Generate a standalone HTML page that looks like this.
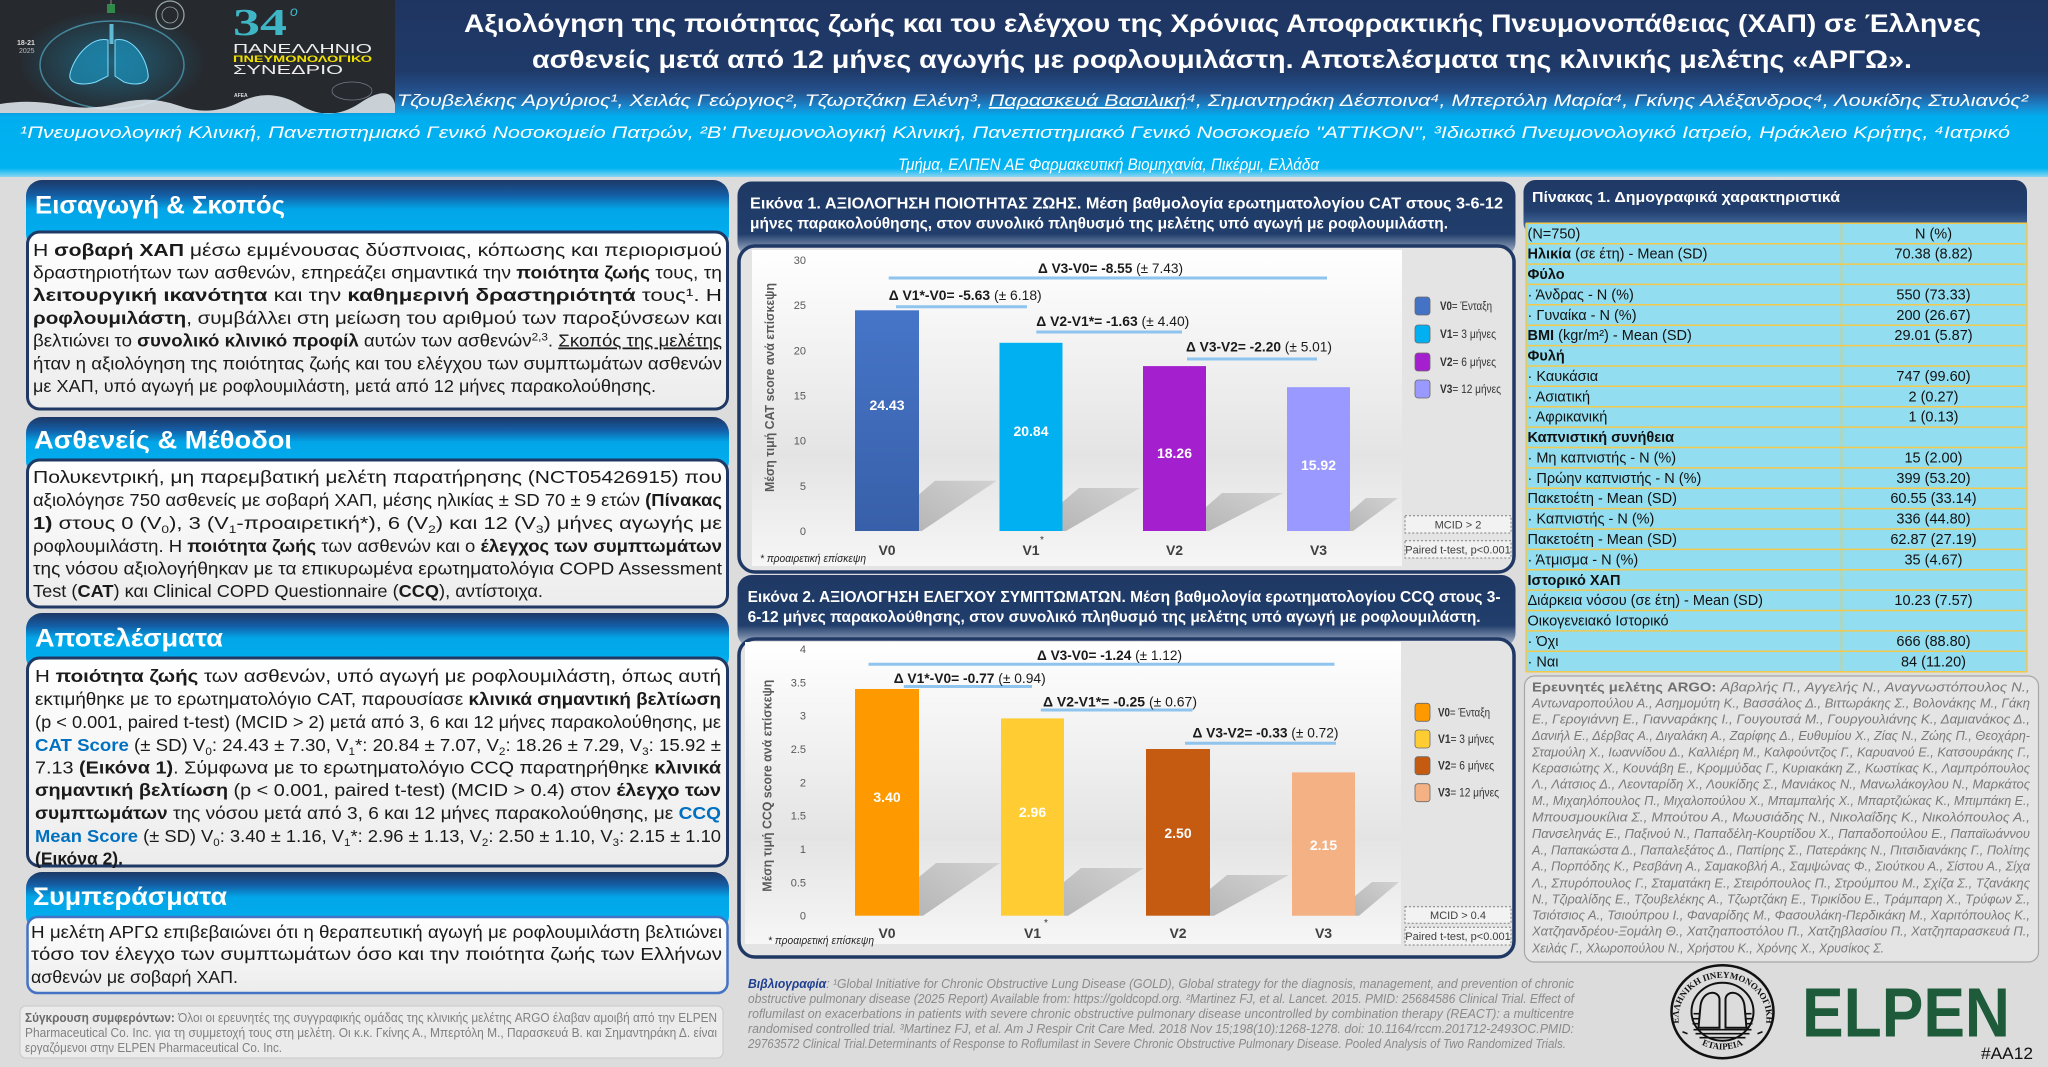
<!DOCTYPE html>
<html><head><meta charset="utf-8">
<style>
html,body{margin:0;padding:0;background:#dcdcdc;}
svg{display:block;}
text{font-family:"Liberation Sans","DejaVu Sans",sans-serif;}
.b{font-weight:bold;}
.bt{font-size:17.5px;fill:#1a1a1a;}
.tb{font-size:14.5px;fill:#111;}
.au{font-size:13px;fill:#7a7a7a;font-style:italic;}
.bib{font-size:12.5px;fill:#8a8a8a;font-style:italic;}
.yt{font-size:11px;fill:#595959;}
.ann{font-size:14px;fill:#1a1a1a;}
.lg{font-size:12px;fill:#333;}
.xl{font-size:14px;fill:#404040;font-weight:bold;}
.vl{font-size:14px;fill:#fff;font-weight:bold;}
</style></head><body>
<svg width="2048" height="1067" viewBox="0 0 2048 1067" xmlns="http://www.w3.org/2000/svg">
<defs>
<linearGradient id="hdr" x1="0" y1="0" x2="0" y2="1">
<stop offset="0" stop-color="#1f3561"/><stop offset="0.4" stop-color="#1f3a69"/><stop offset="0.52" stop-color="#24528e"/><stop offset="0.6" stop-color="#1a86cc"/><stop offset="0.66" stop-color="#00aeef"/><stop offset="0.95" stop-color="#00b3f0"/><stop offset="1" stop-color="#8ad6f2"/>
</linearGradient>
<linearGradient id="sec" x1="0" y1="0" x2="0" y2="1">
<stop offset="0" stop-color="#1d3866"/><stop offset="0.22" stop-color="#145ea6"/><stop offset="0.42" stop-color="#02a6e8"/><stop offset="1" stop-color="#00b0f0"/>
</linearGradient>
<linearGradient id="box" x1="0" y1="0" x2="0" y2="1">
<stop offset="0" stop-color="#ffffff"/><stop offset="1" stop-color="#ececec"/>
</linearGradient>
<linearGradient id="chdr" x1="0" y1="0" x2="0" y2="1">
<stop offset="0" stop-color="#1f3864"/><stop offset="0.7" stop-color="#213e6c"/><stop offset="1" stop-color="#b9c5d6"/>
</linearGradient>
<linearGradient id="thdr" x1="0" y1="0" x2="0" y2="1">
<stop offset="0" stop-color="#1f3864"/><stop offset="0.55" stop-color="#223f6f"/><stop offset="1" stop-color="#5581b6"/>
</linearGradient>
<linearGradient id="plotbg" x1="0" y1="0" x2="0" y2="1">
<stop offset="0" stop-color="#ffffff"/><stop offset="0.65" stop-color="#e4e4e4"/><stop offset="1" stop-color="#f6f6f6"/>
</linearGradient>
<linearGradient id="shd" x1="0" y1="1" x2="1" y2="0">
<stop offset="0" stop-color="#b0b0b0"/><stop offset="1" stop-color="#cfcfcf"/>
</linearGradient>
<linearGradient id="v0b" x1="0" y1="0" x2="0" y2="1">
<stop offset="0" stop-color="#4675c8"/><stop offset="1" stop-color="#3860a9"/>
</linearGradient>
<radialGradient id="glow" cx="0.5" cy="0.5" r="0.5">
<stop offset="0" stop-color="#1aa0d0" stop-opacity="0.45"/><stop offset="1" stop-color="#1aa0d0" stop-opacity="0"/>
</radialGradient>
<path id="arcTop" d="M -42,18 A 44 40 0 1 1 42 18"/>
<path id="arcBot" d="M -26,30 A 44 40 0 0 0 26 30"/>
</defs>

<rect x="0" y="0" width="2048" height="1067" fill="#dcdcdc"/>

<!-- HEADER -->
<rect x="0" y="0" width="2048" height="177" fill="url(#hdr)"/>
<!-- logo -->
<rect x="0" y="0" width="395" height="113" fill="#26292e"/>
<ellipse cx="112" cy="62" rx="95" ry="52" fill="url(#glow)"/>
<ellipse cx="112" cy="65" rx="72" ry="44" fill="none" stroke="#5fc8e8" stroke-opacity="0.55" stroke-width="1.5"/>
<rect x="107" y="4" width="8" height="9" fill="#2f8a4a"/>
<line x1="111" y1="0" x2="111" y2="5" stroke="#888" stroke-width="1"/>
<path d="M108,40 C92,36 74,56 70,74 C68,84 82,86 96,82 L108,76 Z" fill="#1b8fb8" fill-opacity="0.7" stroke="#7fe0ff" stroke-width="1"/>
<path d="M115,40 C131,36 146,56 148,74 C150,84 136,86 124,82 L115,76 Z" fill="#1b8fb8" fill-opacity="0.7" stroke="#7fe0ff" stroke-width="1"/>
<rect x="109.5" y="24" width="4" height="20" fill="#6fd8f5" fill-opacity="0.8"/>
<circle cx="170" cy="15" r="14" fill="none" stroke="#9aa" stroke-width="1.2"/>
<circle cx="170" cy="15" r="8" fill="none" stroke="#9aa" stroke-width="0.8"/>
<text x="17" y="45" font-size="7" fill="#ddd" font-weight="bold">18-21</text>
<text x="19" y="53" font-size="7" fill="#bbb">2025</text>
<text x="233" y="35" font-size="38" font-weight="bold" fill="#3fb6c6" textLength="54" lengthAdjust="spacingAndGlyphs" style="font-family:'Liberation Serif',serif">34</text>
<text x="290" y="16" font-size="14" fill="#3fb6c6" font-style="italic">ο</text>
<text x="233" y="53" font-size="12.5" fill="#eeeeee" textLength="139" lengthAdjust="spacingAndGlyphs">ΠΑΝΕΛΛΗΝΙΟ</text>
<text x="233" y="62" font-size="9" font-weight="bold" fill="#f0e000" textLength="139" lengthAdjust="spacingAndGlyphs">ΠΝΕΥΜΟΝΟΛΟΓΙΚΟ</text>
<text x="233" y="74" font-size="12.5" fill="#eeeeee" textLength="110" lengthAdjust="spacingAndGlyphs">ΣΥΝΕΔΡΙΟ</text>
<text x="234" y="97" font-size="5" font-weight="bold" fill="#ddd">AFEA</text>
<ellipse cx="352" cy="91" rx="20" ry="9" fill="none" stroke="#778" stroke-width="0.8"/>
<path d="M0,113 L0,104 Q30,99 60,105 T120,103 T180,106 T240,102 T300,105 T360,103 T395,104 L395,113 Z" fill="#e6edf3" fill-opacity="0.85"/>

<text x="464" y="32" font-size="25" font-weight="bold" fill="#fff" textLength="1517" lengthAdjust="spacingAndGlyphs">Αξιολόγηση της ποιότητας ζωής και του ελέγχου της Χρόνιας Αποφρακτικής Πνευμονοπάθειας (ΧΑΠ) σε Έλληνες</text>
<text x="532" y="68" font-size="25" font-weight="bold" fill="#fff" textLength="1380" lengthAdjust="spacingAndGlyphs">ασθενείς μετά από 12 μήνες αγωγής με ροφλουμιλάστη. Αποτελέσματα της κλινικής μελέτης  «ΑΡΓΩ».</text>
<text x="397" y="106" font-size="17" font-style="italic" fill="#fff" textLength="1631" lengthAdjust="spacingAndGlyphs">Τζουβελέκης Αργύριος¹, Χειλάς Γεώργιος², Τζωρτζάκη Ελένη³,  <tspan text-decoration="underline">Παρασκευά Βασιλική</tspan>⁴, Σημαντηράκη Δέσποινα⁴, Μπερτόλη Μαρία⁴, Γκίνης Αλέξανδρος⁴, Λουκίδης Στυλιανός²</text>
<text x="20" y="138" font-size="17" font-style="italic" fill="#fff" textLength="1990" lengthAdjust="spacingAndGlyphs">¹Πνευμονολογική Κλινική, Πανεπιστημιακό Γενικό Νοσοκομείο Πατρών, ²Β' Πνευμονολογική Κλινική, Πανεπιστημιακό Γενικό Νοσοκομείο "ΑΤΤΙΚΟΝ", ³Ιδιωτικό Πνευμονολογικό Ιατρείο, Ηράκλειο Κρήτης, ⁴Ιατρικό</text>
<text x="898" y="170" font-size="17" font-style="italic" fill="#fff" textLength="421" lengthAdjust="spacingAndGlyphs">Τμήμα, ΕΛΠΕΝ ΑΕ Φαρμακευτική Βιομηχανία, Πικέρμι, Ελλάδα</text>

<!-- LEFT COLUMN -->
<rect x="26" y="180" width="703" height="70" rx="16" fill="url(#sec)"/>
<rect x="27.5" y="232" width="700" height="177" rx="12" fill="url(#box)" stroke="#1f3864" stroke-width="3"/>
<text x="35" y="213.5" font-size="25" font-weight="bold" fill="#fff" textLength="250" lengthAdjust="spacingAndGlyphs">Εισαγωγή &amp; Σκοπός</text>
<text class="bt" x="33" y="256" textLength="689" lengthAdjust="spacingAndGlyphs">Η <tspan class="b">σοβαρή ΧΑΠ</tspan> μέσω εμμένουσας δύσπνοιας, κόπωσης και περιορισμού</text>
<text class="bt" x="33" y="278.5" textLength="689" lengthAdjust="spacingAndGlyphs">δραστηριοτήτων των ασθενών, επηρεάζει σημαντικά την <tspan class="b">ποιότητα ζωής</tspan> τους, τη</text>
<text class="bt" x="33" y="301" textLength="689" lengthAdjust="spacingAndGlyphs"><tspan class="b">λειτουργική ικανότητα</tspan> και την <tspan class="b">καθημερινή δραστηριότητά</tspan> τους¹. Η</text>
<text class="bt" x="33" y="324" textLength="689" lengthAdjust="spacingAndGlyphs"><tspan class="b">ροφλουμιλάστη</tspan>, συμβάλλει στη μείωση του αριθμού των παροξύνσεων και</text>
<text class="bt" x="33" y="346.5" textLength="689" lengthAdjust="spacingAndGlyphs">βελτιώνει το <tspan class="b">συνολικό κλινικό προφίλ</tspan> αυτών των ασθενών<tspan font-size="11" baseline-shift="6">2,3</tspan>. <tspan text-decoration="underline">Σκοπός της μελέτης</tspan></text>
<text class="bt" x="33" y="369.5" textLength="689" lengthAdjust="spacingAndGlyphs">ήταν η αξιολόγηση της ποιότητας ζωής και του ελέγχου των συμπτωμάτων ασθενών</text>
<text class="bt" x="33" y="392" textLength="623" lengthAdjust="spacingAndGlyphs">με ΧΑΠ, υπό αγωγή με ροφλουμιλάστη, μετά από 12 μήνες παρακολούθησης.</text>

<rect x="26" y="417" width="703" height="60" rx="16" fill="url(#sec)"/>
<rect x="27.5" y="460" width="700" height="147" rx="12" fill="url(#box)" stroke="#1f3864" stroke-width="3"/>
<text x="34" y="448.5" font-size="25" font-weight="bold" fill="#fff" textLength="258" lengthAdjust="spacingAndGlyphs">Ασθενείς &amp; Μέθοδοι</text>
<text class="bt" x="33" y="483" textLength="689" lengthAdjust="spacingAndGlyphs">Πολυκεντρική, μη παρεμβατική μελέτη παρατήρησης (NCT05426915) που</text>
<text class="bt" x="33" y="506" textLength="689" lengthAdjust="spacingAndGlyphs">αξιολόγησε 750 ασθενείς με σοβαρή ΧΑΠ, μέσης ηλικίας ± SD 70 ± 9 ετών <tspan class="b">(Πίνακας</tspan></text>
<text class="bt" x="33" y="529" textLength="689" lengthAdjust="spacingAndGlyphs"><tspan class="b">1)</tspan> στους 0 (V<tspan font-size="11" baseline-shift="-4">0</tspan>), 3 (V<tspan font-size="11" baseline-shift="-4">1</tspan>-προαιρετική*), 6 (V<tspan font-size="11" baseline-shift="-4">2</tspan>) και 12 (V<tspan font-size="11" baseline-shift="-4">3</tspan>) μήνες αγωγής με</text>
<text class="bt" x="33" y="552" textLength="689" lengthAdjust="spacingAndGlyphs">ροφλουμιλάστη. Η <tspan class="b">ποιότητα ζωής</tspan> των ασθενών και ο <tspan class="b">έλεγχος των συμπτωμάτων</tspan></text>
<text class="bt" x="33" y="574.5" textLength="689" lengthAdjust="spacingAndGlyphs">της νόσου αξιολογήθηκαν με τα επικυρωμένα ερωτηματολόγια COPD Assessment</text>
<text class="bt" x="33" y="597" textLength="510" lengthAdjust="spacingAndGlyphs">Test (<tspan class="b">CAT</tspan>) και Clinical COPD Questionnaire (<tspan class="b">CCQ</tspan>),  αντίστοιχα.</text>

<rect x="26" y="613" width="703" height="60" rx="16" fill="url(#sec)"/>
<rect x="27.5" y="658" width="700" height="208" rx="12" fill="url(#box)" stroke="#1f3864" stroke-width="3"/>
<text x="35" y="646.5" font-size="25" font-weight="bold" fill="#fff" textLength="188" lengthAdjust="spacingAndGlyphs">Αποτελέσματα</text>
<text class="bt" x="35" y="682" textLength="686" lengthAdjust="spacingAndGlyphs">Η <tspan class="b">ποιότητα ζωής</tspan> των ασθενών, υπό αγωγή με ροφλουμιλάστη, όπως αυτή</text>
<text class="bt" x="35" y="705" textLength="686" lengthAdjust="spacingAndGlyphs">εκτιμήθηκε με το ερωτηματολόγιο CAT, παρουσίασε <tspan class="b">κλινικά σημαντική βελτίωση</tspan></text>
<text class="bt" x="35" y="728" textLength="686" lengthAdjust="spacingAndGlyphs">(p &lt; 0.001, paired t-test) (MCID &gt; 2) μετά από 3, 6 και 12 μήνες παρακολούθησης, με</text>
<text class="bt" x="35" y="751" textLength="686" lengthAdjust="spacingAndGlyphs"><tspan class="b" fill="#0070c0">CAT Score</tspan> (± SD) V<tspan font-size="11" baseline-shift="-4">0</tspan>: 24.43 ± 7.30, V<tspan font-size="11" baseline-shift="-4">1</tspan>*: 20.84 ± 7.07, V<tspan font-size="11" baseline-shift="-4">2</tspan>: 18.26 ± 7.29, V<tspan font-size="11" baseline-shift="-4">3</tspan>: 15.92 ±</text>
<text class="bt" x="35" y="773.5" textLength="686" lengthAdjust="spacingAndGlyphs">7.13 <tspan class="b">(Εικόνα 1)</tspan>.  Σύμφωνα με το ερωτηματολόγιο CCQ παρατηρήθηκε <tspan class="b">κλινικά</tspan></text>
<text class="bt" x="35" y="796" textLength="686" lengthAdjust="spacingAndGlyphs"><tspan class="b">σημαντική  βελτίωση</tspan> (p &lt; 0.001, paired t-test) (MCID &gt; 0.4) στον <tspan class="b">έλεγχο των</tspan></text>
<text class="bt" x="35" y="819" textLength="686" lengthAdjust="spacingAndGlyphs"><tspan class="b">συμπτωμάτων</tspan> της νόσου μετά από 3, 6 και 12 μήνες παρακολούθησης, με <tspan class="b" fill="#0070c0">CCQ</tspan></text>
<text class="bt" x="35" y="842" textLength="686" lengthAdjust="spacingAndGlyphs"><tspan class="b" fill="#0070c0">Mean Score</tspan> (± SD) V<tspan font-size="11" baseline-shift="-4">0</tspan>: 3.40 ± 1.16, V<tspan font-size="11" baseline-shift="-4">1</tspan>*: 2.96 ± 1.13, V<tspan font-size="11" baseline-shift="-4">2</tspan>: 2.50 ± 1.10, V<tspan font-size="11" baseline-shift="-4">3</tspan>: 2.15 ± 1.10</text>
<text class="bt b" x="35" y="864.5" textLength="88" lengthAdjust="spacingAndGlyphs">(Εικόνα 2).</text>

<rect x="26" y="872" width="703" height="60" rx="16" fill="url(#sec)"/>
<rect x="27.5" y="917" width="700" height="76" rx="10" fill="url(#box)" stroke="#4472c4" stroke-width="2.5"/>
<text x="33" y="905" font-size="25" font-weight="bold" fill="#fff" textLength="194" lengthAdjust="spacingAndGlyphs">Συμπεράσματα</text>
<text class="bt" x="31" y="938" textLength="691" lengthAdjust="spacingAndGlyphs">Η μελέτη ΑΡΓΩ επιβεβαιώνει ότι η θεραπευτική αγωγή με ροφλουμιλάστη βελτιώνει</text>
<text class="bt" x="31" y="960" textLength="691" lengthAdjust="spacingAndGlyphs">τόσο τον έλεγχο των συμπτωμάτων όσο και την ποιότητα ζωής των Ελλήνων</text>
<text class="bt" x="31" y="983" textLength="207" lengthAdjust="spacingAndGlyphs">ασθενών με σοβαρή ΧΑΠ.</text>

<rect x="20" y="1006" width="703" height="52" rx="6" fill="#ebebeb" stroke="#c8c8c8" stroke-width="1"/>
<text x="25" y="1022" font-size="12.5" fill="#808080" textLength="692" lengthAdjust="spacingAndGlyphs"><tspan class="b" fill="#6a6a6a">Σύγκρουση συμφερόντων:</tspan> Όλοι οι ερευνητές της συγγραφικής ομάδας της κλινικής μελέτης ARGO έλαβαν αμοιβή από την ELPEN</text>
<text x="25" y="1037" font-size="12.5" fill="#808080" textLength="692" lengthAdjust="spacingAndGlyphs">Pharmaceutical Co. Inc. για τη συμμετοχή τους στη μελέτη. Οι κ.κ. Γκίνης Α., Μπερτόλη Μ., Παρασκευά Β. και Σημαντηράκη Δ. είναι</text>
<text x="25" y="1052" font-size="12.5" fill="#808080" textLength="257" lengthAdjust="spacingAndGlyphs">εργαζόμενοι στην ELPEN Pharmaceutical Co. Inc.</text>

<!-- CHART 1 -->
<rect x="737.5" y="181.5" width="778" height="75" rx="14" fill="url(#chdr)"/>
<text x="750" y="208.5" font-size="16" font-weight="bold" fill="#fff" textLength="753" lengthAdjust="spacingAndGlyphs">Εικόνα 1. ΑΞΙΟΛΟΓΗΣΗ ΠΟΙΟΤΗΤΑΣ ΖΩΗΣ. Μέση βαθμολογία ερωτηματολογίου CAT στους 3-6-12</text>
<text x="750" y="228.5" font-size="16" font-weight="bold" fill="#fff" textLength="698" lengthAdjust="spacingAndGlyphs">μήνες παρακολούθησης, στον συνολικό πληθυσμό της μελέτης υπό αγωγή με ροφλουμιλάστη.</text>
<rect x="739" y="246" width="775" height="326" rx="16" fill="#e4e4e4" stroke="#1f3864" stroke-width="3.5"/>
<rect x="752" y="250" width="650" height="316" fill="url(#plotbg)"/>
<g class="yt" text-anchor="end">
<text x="806" y="264" class="yt">30</text><text x="806" y="309" class="yt">25</text><text x="806" y="354.5" class="yt">20</text><text x="806" y="399.5" class="yt">15</text><text x="806" y="444.5" class="yt">10</text><text x="806" y="490" class="yt">5</text><text x="806" y="535" class="yt">0</text>
</g>
<text transform="translate(774,492) rotate(-90)" x="0" y="0" font-size="13" font-weight="bold" fill="#595959" textLength="209" lengthAdjust="spacingAndGlyphs">Μέση τιμή CAT score ανά επίσκεψη</text>
<polygon points="918.3,495 935,480.7 996.7,480.7 921.7,531 918.3,531" fill="url(#shd)" opacity="0.9"/>
<polygon points="1062.5,502 1079,488 1140,488 1066,531 1062.5,531" fill="url(#shd)" opacity="0.9"/>
<polygon points="1206,507 1222,493 1283,493 1209,531 1206,531" fill="url(#shd)" opacity="0.9"/>
<polygon points="1350,512 1366,498 1398,498 1353,531 1350,531" fill="url(#shd)" opacity="0.9"/>
<rect x="855" y="310.3" width="64" height="220.7" fill="url(#v0b)"/>
<rect x="999.5" y="342.8" width="63" height="188.2" fill="#00b0f0"/>
<rect x="1143" y="366.1" width="63" height="164.9" fill="#a41fce"/>
<rect x="1287" y="387.2" width="63" height="143.8" fill="#9999ff"/>
<text class="vl" x="887" y="410" text-anchor="middle">24.43</text>
<text class="vl" x="1031" y="436" text-anchor="middle">20.84</text>
<text class="vl" x="1174.5" y="458" text-anchor="middle">18.26</text>
<text class="vl" x="1318.5" y="470" text-anchor="middle">15.92</text>
<text class="xl" x="887" y="555" text-anchor="middle">V0</text>
<text class="xl" x="1031" y="555" text-anchor="middle">V1</text>
<text class="xl" x="1174.5" y="555" text-anchor="middle">V2</text>
<text class="xl" x="1318.5" y="555" text-anchor="middle">V3</text>
<text x="1040" y="543" font-size="10" fill="#333">*</text>
<text x="760" y="562" font-size="11" font-style="italic" fill="#222" textLength="106" lengthAdjust="spacingAndGlyphs">* προαιρετική επίσκεψη</text>
<line x1="888.7" y1="278" x2="1327" y2="278" stroke="#8fc4ee" stroke-width="3"/>
<line x1="896" y1="306.7" x2="1027" y2="306.7" stroke="#8fc4ee" stroke-width="3"/>
<line x1="1036.3" y1="332" x2="1182" y2="332" stroke="#8fc4ee" stroke-width="3"/>
<line x1="1187" y1="359" x2="1317" y2="359" stroke="#8fc4ee" stroke-width="3"/>
<text class="ann" x="1038" y="273" textLength="145" lengthAdjust="spacingAndGlyphs"><tspan class="b">Δ V3-V0= -8.55</tspan> (± 7.43)</text>
<text class="ann" x="888.7" y="300" textLength="153" lengthAdjust="spacingAndGlyphs"><tspan class="b">Δ V1*-V0= -5.63</tspan> (± 6.18)</text>
<text class="ann" x="1036.3" y="326" textLength="153" lengthAdjust="spacingAndGlyphs"><tspan class="b">Δ V2-V1*= -1.63</tspan> (± 4.40)</text>
<text class="ann" x="1186" y="351.5" textLength="146" lengthAdjust="spacingAndGlyphs"><tspan class="b">Δ V3-V2= -2.20</tspan> (± 5.01)</text>
<rect x="1415" y="297" width="15" height="18" rx="3" fill="#4472c4" stroke="#6a6a6a" stroke-width="0.8"/>
<rect x="1415" y="325" width="15" height="18" rx="3" fill="#00b0f0" stroke="#6a6a6a" stroke-width="0.8"/>
<rect x="1415" y="353" width="15" height="18" rx="3" fill="#a41fce" stroke="#6a6a6a" stroke-width="0.8"/>
<rect x="1415" y="380" width="15" height="18" rx="3" fill="#9999ff" stroke="#6a6a6a" stroke-width="0.8"/>
<text class="lg" x="1440" y="310" textLength="52" lengthAdjust="spacingAndGlyphs"><tspan class="b">V0</tspan>= Ένταξη</text>
<text class="lg" x="1440" y="338" textLength="56" lengthAdjust="spacingAndGlyphs"><tspan class="b">V1</tspan>= 3 μήνες</text>
<text class="lg" x="1440" y="366" textLength="56" lengthAdjust="spacingAndGlyphs"><tspan class="b">V2</tspan>= 6 μήνες</text>
<text class="lg" x="1440" y="393" textLength="61" lengthAdjust="spacingAndGlyphs"><tspan class="b">V3</tspan>= 12 μήνες</text>
<rect x="1405" y="515.7" width="106" height="17.3" fill="#f2f2f2" stroke="#7f7f7f" stroke-width="1" stroke-dasharray="2,2"/>
<text x="1458" y="528.5" font-size="11" fill="#404040" text-anchor="middle">MCID &gt; 2</text>
<rect x="1405" y="540.7" width="106" height="17.3" fill="#f2f2f2" stroke="#7f7f7f" stroke-width="1" stroke-dasharray="2,2"/>
<text x="1458" y="553.5" font-size="11" fill="#404040" text-anchor="middle">Paired t-test, p&lt;0.001</text>

<!-- CHART 2 -->
<rect x="737.5" y="575" width="778" height="72" rx="14" fill="url(#chdr)"/>
<text x="747.6" y="602" font-size="16" font-weight="bold" fill="#fff" textLength="753" lengthAdjust="spacingAndGlyphs">Εικόνα 2. ΑΞΙΟΛΟΓΗΣΗ ΕΛΕΓΧΟΥ ΣΥΜΠΤΩΜΑΤΩΝ. Μέση βαθμολογία ερωτηματολογίου CCQ στους 3-</text>
<text x="747.6" y="622" font-size="16" font-weight="bold" fill="#fff" textLength="733" lengthAdjust="spacingAndGlyphs">6-12 μήνες παρακολούθησης, στον συνολικό πληθυσμό της μελέτης υπό αγωγή με ροφλουμιλάστη.</text>
<rect x="739" y="639" width="775" height="318" rx="16" fill="#e4e4e4" stroke="#1f3864" stroke-width="3.5"/>
<rect x="745" y="642" width="656" height="302" fill="url(#plotbg)"/>
<g text-anchor="end">
<text x="806" y="653" class="yt">4</text><text x="806" y="686.4" class="yt">3.5</text><text x="806" y="719.7" class="yt">3</text><text x="806" y="753" class="yt">2.5</text><text x="806" y="786.4" class="yt">2</text><text x="806" y="819.7" class="yt">1.5</text><text x="806" y="853" class="yt">1</text><text x="806" y="886.4" class="yt">0.5</text><text x="806" y="919.7" class="yt">0</text>
</g>
<text transform="translate(771.5,891.7) rotate(-90)" x="0" y="0" font-size="13" font-weight="bold" fill="#595959" textLength="212" lengthAdjust="spacingAndGlyphs">Μέση τιμή CCQ score ανά επίσκεψη</text>
<polygon points="919,877 936,863 1000,863 923,915.7 919,915.7" fill="url(#shd)" opacity="0.9"/>
<polygon points="1064,882 1081,868 1144,868 1068,915.7 1064,915.7" fill="url(#shd)" opacity="0.9"/>
<polygon points="1210,889 1227,875 1289,875 1214,915.7 1210,915.7" fill="url(#shd)" opacity="0.9"/>
<polygon points="1355,896 1372,882 1399,882 1359,915.7 1355,915.7" fill="url(#shd)" opacity="0.9"/>
<rect x="855" y="689" width="64" height="226.7" fill="#ff9900"/>
<rect x="1001" y="718.4" width="63" height="197.3" fill="#ffcd33"/>
<rect x="1146" y="749" width="64" height="166.7" fill="#c55a11"/>
<rect x="1292" y="772.4" width="63" height="143.3" fill="#f4b183"/>
<text class="vl" x="887" y="802" text-anchor="middle">3.40</text>
<text class="vl" x="1032.5" y="817" text-anchor="middle">2.96</text>
<text class="vl" x="1178" y="838" text-anchor="middle">2.50</text>
<text class="vl" x="1323.5" y="850" text-anchor="middle">2.15</text>
<text class="xl" x="887" y="938" text-anchor="middle">V0</text>
<text class="xl" x="1032.5" y="938" text-anchor="middle">V1</text>
<text class="xl" x="1178" y="938" text-anchor="middle">V2</text>
<text class="xl" x="1323.5" y="938" text-anchor="middle">V3</text>
<text x="1044" y="926" font-size="10" fill="#333">*</text>
<text x="768" y="944" font-size="11" font-style="italic" fill="#222" textLength="106" lengthAdjust="spacingAndGlyphs">* προαιρετική επίσκεψη</text>
<line x1="868.5" y1="664.3" x2="1334.5" y2="664.3" stroke="#8fc4ee" stroke-width="3"/>
<line x1="903.8" y1="686.5" x2="1032" y2="686.5" stroke="#8fc4ee" stroke-width="3"/>
<line x1="1040.8" y1="710" x2="1192.5" y2="710" stroke="#8fc4ee" stroke-width="3"/>
<line x1="1185" y1="743.3" x2="1336" y2="743.3" stroke="#8fc4ee" stroke-width="3"/>
<text class="ann" x="1037" y="660" textLength="145" lengthAdjust="spacingAndGlyphs"><tspan class="b">Δ V3-V0= -1.24</tspan> (± 1.12)</text>
<text class="ann" x="893.7" y="683" textLength="152" lengthAdjust="spacingAndGlyphs"><tspan class="b">Δ V1*-V0= -0.77</tspan> (± 0.94)</text>
<text class="ann" x="1043" y="706.5" textLength="154" lengthAdjust="spacingAndGlyphs"><tspan class="b">Δ V2-V1*= -0.25</tspan> (± 0.67)</text>
<text class="ann" x="1192.5" y="737.3" textLength="146" lengthAdjust="spacingAndGlyphs"><tspan class="b">Δ V3-V2= -0.33</tspan> (± 0.72)</text>
<rect x="1415" y="703.3" width="15" height="18" rx="3" fill="#ff9900" stroke="#6a6a6a" stroke-width="0.8"/>
<rect x="1415" y="730" width="15" height="18" rx="3" fill="#ffcd33" stroke="#6a6a6a" stroke-width="0.8"/>
<rect x="1415" y="756.7" width="15" height="18" rx="3" fill="#c55a11" stroke="#6a6a6a" stroke-width="0.8"/>
<rect x="1415" y="783.7" width="15" height="18" rx="3" fill="#f4b183" stroke="#6a6a6a" stroke-width="0.8"/>
<text class="lg" x="1438" y="716.3" textLength="52" lengthAdjust="spacingAndGlyphs"><tspan class="b">V0</tspan>= Ένταξη</text>
<text class="lg" x="1438" y="743" textLength="56" lengthAdjust="spacingAndGlyphs"><tspan class="b">V1</tspan>= 3 μήνες</text>
<text class="lg" x="1438" y="769.7" textLength="56" lengthAdjust="spacingAndGlyphs"><tspan class="b">V2</tspan>= 6 μήνες</text>
<text class="lg" x="1438" y="796.7" textLength="61" lengthAdjust="spacingAndGlyphs"><tspan class="b">V3</tspan>= 12 μήνες</text>
<rect x="1405" y="906.7" width="106" height="16.6" fill="#f2f2f2" stroke="#7f7f7f" stroke-width="1" stroke-dasharray="2,2"/>
<text x="1458" y="919" font-size="11" fill="#404040" text-anchor="middle">MCID &gt; 0.4</text>
<rect x="1405" y="927.3" width="106" height="17.7" fill="#f2f2f2" stroke="#7f7f7f" stroke-width="1" stroke-dasharray="2,2"/>
<text x="1458" y="940" font-size="11" fill="#404040" text-anchor="middle">Paired t-test, p&lt;0.001</text>

<!-- BIBLIOGRAPHY -->
<text class="bib" x="748" y="988" textLength="826" lengthAdjust="spacingAndGlyphs"><tspan font-weight="bold" fill="#1f3f8f">Βιβλιογραφία</tspan>: ¹Global Initiative for Chronic Obstructive Lung Disease (GOLD), Global strategy for the diagnosis, management, and prevention of chronic</text>
<text class="bib" x="748" y="1003" textLength="826" lengthAdjust="spacingAndGlyphs">obstructive pulmonary disease (2025 Report) Available from: https://goldcopd.org. ²Martinez FJ, et al. Lancet. 2015. PMID: 25684586 Clinical Trial. Effect of</text>
<text class="bib" x="748" y="1018" textLength="826" lengthAdjust="spacingAndGlyphs">roflumilast on exacerbations in patients with severe chronic obstructive pulmonary disease uncontrolled by combination therapy (REACT): a multicentre</text>
<text class="bib" x="748" y="1033" textLength="826" lengthAdjust="spacingAndGlyphs">randomised controlled trial. ³Martinez FJ, et al. Am J Respir Crit Care Med. 2018 Nov 15;198(10):1268-1278. doi: 10.1164/rccm.201712-2493OC.PMID:</text>
<text class="bib" x="748" y="1048" textLength="818" lengthAdjust="spacingAndGlyphs">29763572 Clinical Trial.Determinants of Response to Roflumilast in Severe Chronic Obstructive Pulmonary Disease. Pooled Analysis of Two Randomized Trials.</text>

<!-- TABLE -->
<rect x="1523.5" y="180" width="503.5" height="55" rx="12" fill="url(#thdr)"/>
<text x="1532" y="202" font-size="15" font-weight="bold" fill="#fff" textLength="308" lengthAdjust="spacingAndGlyphs">Πίνακας 1. Δημογραφικά χαρακτηριστικά</text>
<rect x="1526" y="223.3" width="501" height="448.4" fill="#92ddef"/>
<g stroke="#f2c94c" stroke-width="1.5">
<line x1="1526" y1="223.3" x2="2027" y2="223.3"/><line x1="1526" y1="243.7" x2="2027" y2="243.7"/><line x1="1526" y1="264.1" x2="2027" y2="264.1"/><line x1="1526" y1="284.4" x2="2027" y2="284.4"/><line x1="1526" y1="304.8" x2="2027" y2="304.8"/><line x1="1526" y1="325.2" x2="2027" y2="325.2"/><line x1="1526" y1="345.6" x2="2027" y2="345.6"/><line x1="1526" y1="366" x2="2027" y2="366"/><line x1="1526" y1="386.3" x2="2027" y2="386.3"/><line x1="1526" y1="406.7" x2="2027" y2="406.7"/><line x1="1526" y1="427.1" x2="2027" y2="427.1"/><line x1="1526" y1="447.5" x2="2027" y2="447.5"/><line x1="1526" y1="467.9" x2="2027" y2="467.9"/><line x1="1526" y1="488.2" x2="2027" y2="488.2"/><line x1="1526" y1="508.6" x2="2027" y2="508.6"/><line x1="1526" y1="529" x2="2027" y2="529"/><line x1="1526" y1="549.4" x2="2027" y2="549.4"/><line x1="1526" y1="569.8" x2="2027" y2="569.8"/><line x1="1526" y1="590.1" x2="2027" y2="590.1"/><line x1="1526" y1="610.5" x2="2027" y2="610.5"/><line x1="1526" y1="630.9" x2="2027" y2="630.9"/><line x1="1526" y1="651.3" x2="2027" y2="651.3"/><line x1="1526" y1="671.7" x2="2027" y2="671.7"/>
<line x1="1526" y1="223.3" x2="1526" y2="671.7"/><line x1="1841.5" y1="223.3" x2="1841.5" y2="671.7"/><line x1="2027" y1="223.3" x2="2027" y2="671.7"/>
</g>
<g class="tb">
<text class="tb" x="1527.5" y="238.3">(N=750)</text>
<text class="tb" x="1527.5" y="258.7"><tspan class="b">Ηλικία</tspan> (σε έτη) - Mean (SD)</text>
<text class="tb b" x="1527.5" y="279.1">Φύλο</text>
<text class="tb" x="1527.5" y="299.4">· Άνδρας - N (%)</text>
<text class="tb" x="1527.5" y="319.8">· Γυναίκα - N (%)</text>
<text class="tb" x="1527.5" y="340.2"><tspan class="b">BMI</tspan> (kgr/m²) - Mean (SD)</text>
<text class="tb b" x="1527.5" y="360.6">Φυλή</text>
<text class="tb" x="1527.5" y="381">· Καυκάσια</text>
<text class="tb" x="1527.5" y="401.3">· Ασιατική</text>
<text class="tb" x="1527.5" y="421.7">· Αφρικανική</text>
<text class="tb b" x="1527.5" y="442.1">Καπνιστική συνήθεια</text>
<text class="tb" x="1527.5" y="462.5">· Μη καπνιστής - N (%)</text>
<text class="tb" x="1527.5" y="482.9">· Πρώην καπνιστής - N (%)</text>
<text class="tb" x="1527.5" y="503.2">Πακετοέτη - Mean (SD)</text>
<text class="tb" x="1527.5" y="523.6">· Καπνιστής - N (%)</text>
<text class="tb" x="1527.5" y="544">Πακετοέτη - Mean (SD)</text>
<text class="tb" x="1527.5" y="564.4">· Άτμισμα - N (%)</text>
<text class="tb b" x="1527.5" y="584.8">Ιστορικό ΧΑΠ</text>
<text class="tb" x="1527.5" y="605.1">Διάρκεια νόσου (σε έτη) - Mean (SD)</text>
<text class="tb" x="1527.5" y="625.5">Οικογενειακό Ιστορικό</text>
<text class="tb" x="1527.5" y="645.9">· Όχι</text>
<text class="tb" x="1527.5" y="666.3">· Ναι</text>
</g>
<g text-anchor="middle">
<text class="tb" x="1933.5" y="238.3">N (%)</text>
<text class="tb" x="1933.5" y="258.7">70.38 (8.82)</text>
<text class="tb" x="1933.5" y="299.4">550 (73.33)</text>
<text class="tb" x="1933.5" y="319.8">200 (26.67)</text>
<text class="tb" x="1933.5" y="340.2">29.01 (5.87)</text>
<text class="tb" x="1933.5" y="381">747 (99.60)</text>
<text class="tb" x="1933.5" y="401.3">2 (0.27)</text>
<text class="tb" x="1933.5" y="421.7">1 (0.13)</text>
<text class="tb" x="1933.5" y="462.5">15 (2.00)</text>
<text class="tb" x="1933.5" y="482.9">399 (53.20)</text>
<text class="tb" x="1933.5" y="503.2">60.55 (33.14)</text>
<text class="tb" x="1933.5" y="523.6">336 (44.80)</text>
<text class="tb" x="1933.5" y="544">62.87 (27.19)</text>
<text class="tb" x="1933.5" y="564.4">35 (4.67)</text>
<text class="tb" x="1933.5" y="605.1">10.23 (7.57)</text>
<text class="tb" x="1933.5" y="645.9">666 (88.80)</text>
<text class="tb" x="1933.5" y="666.3">84 (11.20)</text>
</g>

<!-- AUTHORS BOX -->
<rect x="1524.5" y="676" width="514" height="286" rx="10" fill="#e4e4e4" stroke="#a6a6a6" stroke-width="1.2"/>
<text class="au" x="1532" y="691.7" textLength="498" lengthAdjust="spacingAndGlyphs"><tspan font-weight="bold" font-style="normal" fill="#707070">Ερευνητές μελέτης ARGO:</tspan> Αβαρλής Π., Αγγελής Ν., Αναγνωστόπουλος Ν.,</text>
<text class="au" x="1532" y="707.3" textLength="498" lengthAdjust="spacingAndGlyphs">Αντωναροπούλου Α., Ασημομύτη Κ., Βασσάλος Δ., Βιττωράκης Σ., Βολονάκης Μ., Γάκη</text>
<text class="au" x="1532" y="723.3" textLength="498" lengthAdjust="spacingAndGlyphs">Ε., Γερογιάννη Ε., Γιανναράκης Ι., Γουγουτσά Μ., Γουργουλιάνης Κ., Δαμιανάκος Δ.,</text>
<text class="au" x="1532" y="740" textLength="498" lengthAdjust="spacingAndGlyphs">Δανιήλ Ε., Δέρβας Α., Διγαλάκη Α., Ζαρίφης Δ., Ευθυμίου Χ., Ζίας Ν., Ζώης Π., Θεοχάρη-</text>
<text class="au" x="1532" y="756.3" textLength="498" lengthAdjust="spacingAndGlyphs">Σταμούλη Χ., Ιωαννίδου Δ., Καλλιέρη Μ., Καλφούντζος Γ., Καρυανού Ε., Κατσουράκης Γ.,</text>
<text class="au" x="1532" y="772.7" textLength="498" lengthAdjust="spacingAndGlyphs">Κερασιώτης Χ., Κουνάβη Ε., Κρομμύδας Γ., Κυριακάκη Ζ., Κωστίκας Κ., Λαμπρόπουλος</text>
<text class="au" x="1532" y="788.3" textLength="498" lengthAdjust="spacingAndGlyphs">Λ., Λάτσιος Δ., Λεονταρίδη Χ., Λουκίδης Σ., Μανιάκος Ν., Μανωλάκογλου Ν., Μαρκάτος</text>
<text class="au" x="1532" y="805" textLength="498" lengthAdjust="spacingAndGlyphs">Μ., Μιχαηλόπουλος Π., Μιχαλοπούλου Χ., Μπαμπαλής Χ., Μπαρτζιώκας Κ., Μπιμπάκη Ε.,</text>
<text class="au" x="1532" y="821.3" textLength="498" lengthAdjust="spacingAndGlyphs">Μπουσμουκίλια Σ., Μπούτου Α., Μωυσιάδης Ν., Νικολαΐδης Κ., Νικολόπουλος Α.,</text>
<text class="au" x="1532" y="838" textLength="498" lengthAdjust="spacingAndGlyphs">Πανσεληνάς Ε., Παξινού Ν., Παπαδέλη-Κουρτίδου Χ., Παπαδοπούλου Ε., Παπαϊωάννου</text>
<text class="au" x="1532" y="854.7" textLength="498" lengthAdjust="spacingAndGlyphs">Α., Παπακώστα Δ., Παπαλεξάτος Δ., Παπίρης Σ., Πατεράκης Ν., Πιτσιδιανάκης Γ., Πολίτης</text>
<text class="au" x="1532" y="870.7" textLength="498" lengthAdjust="spacingAndGlyphs">Α., Πορπόδης Κ., Ρεσβάνη Α., Σαμακοβλή Α., Σαμψώνας Φ., Σιούτκου Α., Σίστου Α., Σίχα</text>
<text class="au" x="1532" y="887.3" textLength="498" lengthAdjust="spacingAndGlyphs">Λ., Σπυρόπουλος Γ., Σταματάκη Ε., Στειρόπουλος Π., Στρούμπου Μ., Σχίζα Σ., Τζανάκης</text>
<text class="au" x="1532" y="903.3" textLength="498" lengthAdjust="spacingAndGlyphs">Ν., Τζιραλίδης Ε., Τζουβελέκης Α., Τζωρτζάκη Ε., Τιρικίδου Ε., Τράμπαρη Χ., Τρύφων Σ.,</text>
<text class="au" x="1532" y="919.7" textLength="498" lengthAdjust="spacingAndGlyphs">Τσιότσιος Α., Τσιούπρου Ι., Φαναρίδης Μ., Φασουλάκη-Περδικάκη Μ., Χαριτόπουλος Κ.,</text>
<text class="au" x="1532" y="935.7" textLength="498" lengthAdjust="spacingAndGlyphs">Χατζηανδρέου-Ξομάλη Θ., Χατζηαποστόλου Π., Χατζηβλασίου Π., Χατζηπαρασκευά Π.,</text>
<text class="au" x="1532" y="952.3" textLength="352" lengthAdjust="spacingAndGlyphs">Χειλάς Γ., Χλωροπούλου Ν., Χρήστου Κ., Χρόνης Χ., Χρυσίκος Σ.</text>

<!-- EMBLEM -->
<g transform="translate(1722.5,1011.7)">
<ellipse cx="0" cy="0" rx="51" ry="46.5" fill="none" stroke="#111" stroke-width="2.5"/>
<ellipse cx="0" cy="0" rx="31" ry="29" fill="none" stroke="#111" stroke-width="2"/>
<text font-size="9" font-weight="bold" fill="#111" style="font-family:'Liberation Serif',serif"><textPath href="#arcTop" startOffset="50%" text-anchor="middle">ΕΛΛΗΝΙΚΗ ΠΝΕΥΜΟΝΟΛΟΓΙΚΗ</textPath></text>
<text font-size="9" font-weight="bold" fill="#111" style="font-family:'Liberation Serif',serif"><textPath href="#arcBot" startOffset="50%" text-anchor="middle">ΕΤΑΙΡΕΙΑ</textPath></text>
<path d="M-3,16 L-3,-12 C-3,-22 -20,-22 -22,-6 L-24,16 Z" fill="none" stroke="#111" stroke-width="2"/>
<path d="M3,16 L3,-12 C3,-22 20,-22 22,-6 L24,16 Z" fill="none" stroke="#111" stroke-width="2"/>
<g stroke="#111" stroke-width="1.6">
<line x1="-29" y1="2" x2="-22" y2="2"/><line x1="22" y1="2" x2="29" y2="2"/>
<line x1="-30" y1="7" x2="-23" y2="7"/><line x1="23" y1="7" x2="30" y2="7"/>
<line x1="-30" y1="12" x2="-23" y2="12"/><line x1="23" y1="12" x2="30" y2="12"/>
<line x1="-29" y1="18" x2="29" y2="18"/><line x1="-27" y1="22" x2="27" y2="22"/><line x1="-23" y1="26" x2="23" y2="26"/>
<line x1="-40" y1="20" x2="-35" y2="22"/><line x1="40" y1="20" x2="35" y2="22"/>
</g>
</g>
<text x="1802" y="1036.7" font-size="70" font-weight="bold" fill="#1e5b3a" textLength="208" lengthAdjust="spacingAndGlyphs">ELPEN</text>
<text x="1981" y="1059" font-size="17" fill="#111" textLength="52" lengthAdjust="spacingAndGlyphs">#AA12</text>
</svg>
</body></html>
